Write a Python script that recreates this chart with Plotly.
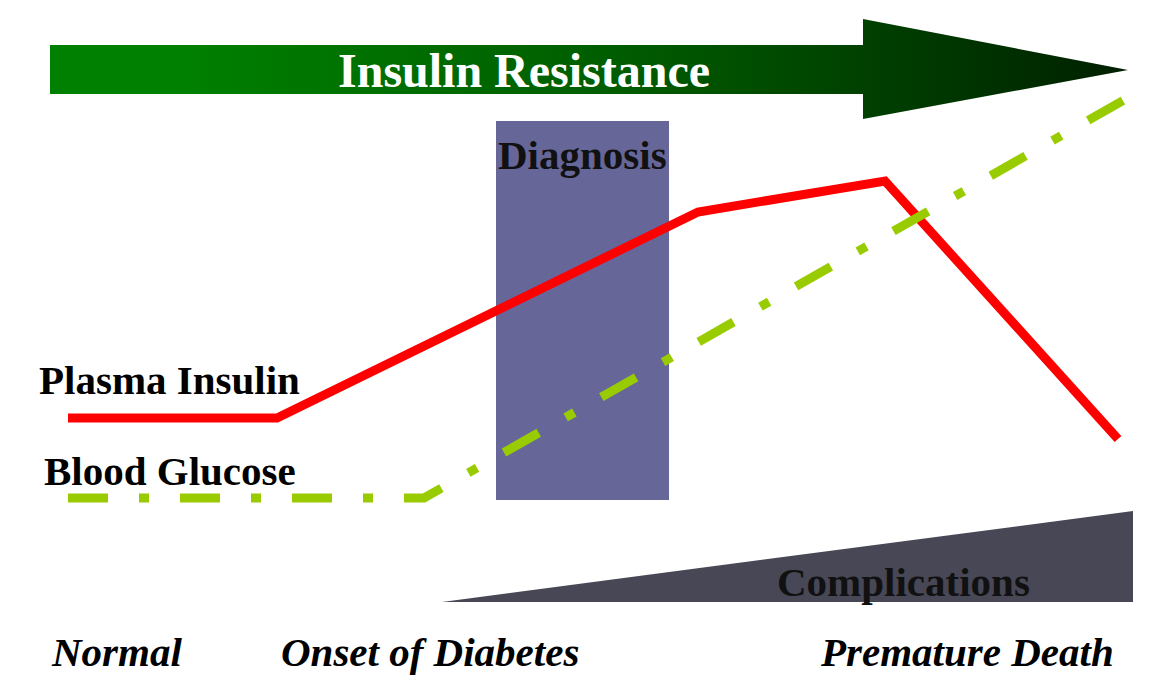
import plotly.graph_objects as go

# ---- data (pixel-space diagram coordinates) ----
insulin_x = [68, 277, 698, 885, 1118]
insulin_y = [418, 418, 212, 181, 439]

glucose_x = [68, 424, 1131]
glucose_y = [498, 498, 96]

arrow_x = [50, 863, 863, 1128, 863, 863, 50, 50]
arrow_y = [45, 45, 19, 70, 119, 94, 94, 45]

compl_x = [442, 1133, 1133, 442]
compl_y = [602, 511, 602, 602]

diag_x = [496, 669]
diag_y = [121, 500]

labels = ["Insulin Resistance", "Diagnosis", "Plasma Insulin", "Blood Glucose",
          "Complications", "Normal", "Onset of Diabetes", "Premature Death"]

SERIF = "Liberation Serif, Times New Roman, serif"

fig = go.Figure()

# Insulin resistance arrow with gradient
fig.add_trace(go.Scatter(
    x=arrow_x, y=arrow_y, mode="lines", fill="toself",
    line=dict(width=0, color="rgba(0,0,0,0)"),
    fillgradient=dict(type="horizontal",
                      colorscale=[[0, "#008000"], [0.12, "#008000"],
                                  [0.55, "#005a00"], [0.78, "#003d00"],
                                  [1, "#002000"]]),
    hoverinfo="skip", showlegend=False))

# Complications wedge
fig.add_trace(go.Scatter(
    x=compl_x, y=compl_y, mode="lines", fill="toself",
    fillcolor="#474756", line=dict(width=0, color="#474756"),
    hoverinfo="skip", showlegend=False))

# Plasma insulin
fig.add_trace(go.Scatter(
    x=insulin_x, y=insulin_y, mode="lines",
    line=dict(color="#FF0000", width=9),
    hoverinfo="skip", showlegend=False))

# Blood glucose
fig.add_trace(go.Scatter(
    x=glucose_x, y=glucose_y, mode="lines",
    line=dict(color="#99CC00", width=9, dash="40px,31px,10px,31px"),
    hoverinfo="skip", showlegend=False))

# Diagnosis box
fig.add_shape(type="rect", x0=diag_x[0], x1=diag_x[1], y0=diag_y[0], y1=diag_y[1],
              fillcolor="#666699", line=dict(width=0), layer="below")

def txt(x, y, s, size=41, color="#000000", xanchor="left", italic=False):
    fig.add_annotation(x=x, y=y, text=s, showarrow=False, xanchor=xanchor,
                       yanchor="middle",
                       font=dict(family=SERIF, size=size, color=color,
                                 weight="bold", style="italic" if italic else "normal"))

txt(524, 70, labels[0], size=48, color="#FFFFFF", xanchor="center")
txt(582, 155, labels[1], size=41, color="#111111", xanchor="center")
txt(37, 380, labels[2], size=41)
txt(42, 471, labels[3], size=41)
txt(903, 582, labels[4], size=41, color="#111111", xanchor="center")
txt(49, 652, labels[5], size=41, italic=True)
txt(279, 652, labels[6], size=41, italic=True)
txt(818, 652, labels[7], size=41, italic=True)

fig.update_layout(
    width=1157, height=692, autosize=False,
    margin=dict(l=0, r=0, t=0, b=0),
    paper_bgcolor="white", plot_bgcolor="white",
    xaxis=dict(range=[0, 1157], visible=False, fixedrange=True),
    yaxis=dict(range=[692, 0], visible=False, fixedrange=True),
    showlegend=False,
)

fig.write_html("out.html", config={"displayModeBar": False},
               post_script="document.body.style.margin='0';")
